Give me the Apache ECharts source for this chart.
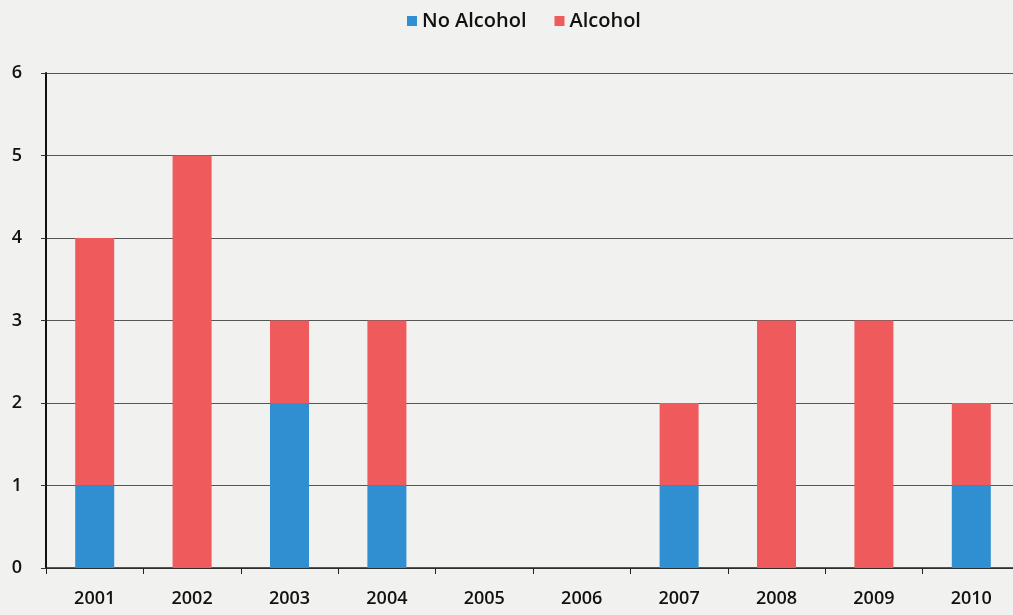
<!DOCTYPE html>
<html><head><meta charset="utf-8">
<script src="https://cdn.jsdelivr.net/npm/echarts@6/dist/echarts.min.js"></script>
<style>html,body{margin:0;padding:0;background:#f1f1f0;}#c{width:1013px;height:615px;}</style>
</head><body><div id="c"></div>
<script>
const years = ['2001','2002','2003','2004','2005','2006','2007','2008','2009','2010'];
const noAlcohol = [1,0,2,1,0,0,1,0,0,1];
const alcohol = [3,5,1,2,0,0,1,3,3,1];
const yTicks = [0,1,2,3,4,5,6];

const chart = echarts.init(document.getElementById('c'));
const font = '"Open Sans", "Liberation Sans", sans-serif';
chart.setOption({
  backgroundColor: '#f1f1f0',
  animation: false,
  legend: {
    top: 11, left: 407, padding: 0, itemWidth: 10, itemHeight: 10, itemGap: 28,
    icon: 'rect',
    textStyle: {fontFamily: font, fontSize: 20, fontWeight: 600, color: '#111'},
    data: ['No Alcohol', 'Alcohol']
  },
  grid: {left: 46, top: 73, width: 974, bottom: 47, containLabel: false, outerBoundsMode: 'none'},
  xAxis: {
    type: 'category', data: years,
    axisLine: {lineStyle: {color: '#222', width: 1.5}},
    axisTick: {show: true, alignWithLabel: false, length: 6, lineStyle: {color: '#222'}},
    axisLabel: {fontFamily: font, fontSize: 18, fontWeight: 600, color: '#111', margin: 22}
  },
  yAxis: {
    type: 'value', min: yTicks[0], max: yTicks[yTicks.length-1], interval: 1,
    axisLine: {show: true, lineStyle: {color: '#111', width: 2}},
    axisTick: {show: true, length: 5, lineStyle: {color: '#333'}},
    axisLabel: {fontFamily: font, fontSize: 18, fontWeight: 600, color: '#111', margin: 24},
    splitLine: {lineStyle: {color: '#555', width: 1}}
  },
  series: [
    {name: 'No Alcohol', type: 'bar', stack: 's', data: noAlcohol, barWidth: 39,
     itemStyle: {color: '#2f8fd0'}},
    {name: 'Alcohol', type: 'bar', stack: 's', data: alcohol, barWidth: 39,
     itemStyle: {color: '#ef5b5d'}}
  ]
});
</script></body></html>
